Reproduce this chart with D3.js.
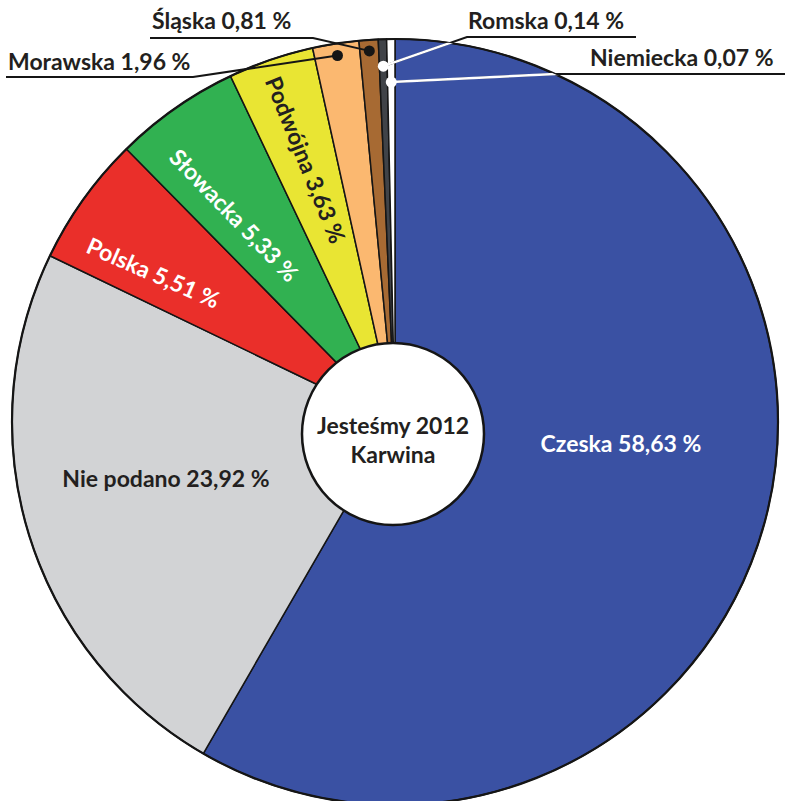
<!DOCTYPE html>
<html>
<head>
<meta charset="utf-8">
<script src="https://cdn.jsdelivr.net/npm/d3@7"></script>
<style>
  body { margin: 0; background: #fff; }
  svg text { font-family: Lato, "Open Sans", sans-serif; font-weight: 700; }
</style>
</head>
<body>
<div class="chart"></div>
<script>
// data
var categories = ["Czeska", "Nie podano", "Polska", "Słowacka", "Podwójna", "Morawska", "Śląska", "Romska", "Niemiecka"];
var shares = [58.63, 23.92, 5.51, 5.33, 3.63, 1.96, 0.81, 0.14, 0.07];
var colors = ["#3a51a3", "#d2d3d5", "#ea2f2a", "#31b151", "#e9e533", "#fbb870", "#a76a33", "#404348", "#ffffff"];
var centerTitle = ["Jesteśmy 2012", "Karwina"];

var svgWidth = 785;
var svgHeight = 801;
var cx = 395, cy = 422, R = 383;
var minShare = 0.35; // smallest slices get a visible minimum width
var fontSize = 23;

var fmt = d3.formatLocale({decimal: ",", thousands: " ", grouping: [3], currency: ["", ""]}).format(".2f");

var data = categories.map(function (c, i) {
  return {name: c, value: shares[i], color: colors[i]};
});

var svg = d3.select(".chart")
  .append("svg")
  .attr("width", svgWidth)
  .attr("height", svgHeight);

var chartGroup = svg.append("g")
  .attr("transform", `translate(${cx}, ${cy})`);

var pie = d3.pie()
  .sort(null)
  .value(d => Math.max(d.value, minShare));

var arc = d3.arc()
  .innerRadius(0)
  .outerRadius(R);

var arcs = pie(data);

function polar(a, r) {
  return [r * Math.sin(a), -r * Math.cos(a)];
}
function mid(d) { return (d.startAngle + d.endAngle) / 2; }

// slices
chartGroup.selectAll("path.slice")
  .data(arcs)
  .enter()
  .append("path")
  .attr("class", "slice")
  .attr("d", arc)
  .attr("fill", d => d.data.color)
  .attr("stroke", "#151515")
  .attr("stroke-width", 1.5)
  .attr("stroke-linejoin", "round");

chartGroup.append("circle")
  .attr("r", R)
  .attr("fill", "none")
  .attr("stroke", "#151515")
  .attr("stroke-width", 2.2);

svg.append("clipPath")
  .attr("id", "pieClip")
  .append("circle")
  .attr("r", R);

// labels inside the slices (dA in degrees, radius, text colour, rotation)
var inside = {
  "Czeska":     {dA: -9.5, r: 227, fill: "#fff", rot: false},
  "Nie podano": {dA: 3.2, r: 236, fill: "#231f20", rot: false},
  "Polska":     {dA: -4, r: 284, fill: "#fff", rot: true, off: -8},
  "Słowacka":   {dA: -3, r: 262, fill: "#fff", rot: true, off: -6},
  "Podwójna":   {dA: 0, r: 277, fill: "#231f20", rot: true, off: -3}
};

arcs.filter(d => inside[d.data.name]).forEach(function (d) {
  var cfg = inside[d.data.name];
  var a = mid(d) + cfg.dA * Math.PI / 180;
  var p = polar(a, cfg.r);
  var rot = cfg.rot ? (a * 180 / Math.PI - 270 + cfg.off) : 0;
  chartGroup.append("text")
    .attr("transform", `translate(${p[0]}, ${p[1]}) rotate(${rot})`)
    .attr("text-anchor", "middle")
    .attr("dy", "0.35em")
    .attr("font-size", fontSize)
    .attr("fill", cfg.fill)
    .text(`${d.data.name} ${fmt(d.data.value)} %`);
});

// outer labels with leader lines (page coordinates)
var outside = {
  "Morawska":  {tx: 8, ty: 70, ly: 77, x0: 6, ex: 193, r: 371, dot: "#151515"},
  "Śląska":    {tx: 152, ty: 29, ly: 38, x0: 150, ex: 313, r: 372, dot: "#151515"},
  "Romska":    {tx: 468, ty: 29, ly: 37, x0: 636, ex: 467, r: 356, dot: "#fff"},
  "Niemiecka": {tx: 590, ty: 66, ly: 74, x0: 785, ex: 555, r: 340, dot: "#fff"}
};

var outerGroup = svg.append("g");
var whiteGroup = svg.append("g")
  .attr("transform", `translate(${cx}, ${cy})`)
  .attr("clip-path", "url(#pieClip)")
  .append("g")
  .attr("transform", `translate(${-cx}, ${-cy})`);
var dotGroup = svg.append("g");

arcs.filter(d => outside[d.data.name]).forEach(function (d) {
  var cfg = outside[d.data.name];
  var p = polar(mid(d), cfg.r);
  var dx = cx + p[0], dy = cy + p[1];
  var pts = [[cfg.x0, cfg.ly], [cfg.ex, cfg.ly], [dx, dy]];
  outerGroup.append("path")
    .attr("d", d3.line()(pts))
    .attr("fill", "none")
    .attr("stroke", "#151515")
    .attr("stroke-width", 2);
  if (cfg.dot === "#fff") {
    whiteGroup.append("path")
      .attr("d", d3.line()(pts))
      .attr("fill", "none")
      .attr("stroke", "#fff")
      .attr("stroke-width", 2.4);
  }
  dotGroup.append("circle")
    .attr("cx", dx)
    .attr("cy", dy)
    .attr("r", 5.5)
    .attr("fill", cfg.dot);
  outerGroup.append("text")
    .attr("x", cfg.tx)
    .attr("y", cfg.ty)
    .attr("font-size", fontSize)
    .attr("fill", "#231f20")
    .text(`${d.data.name} ${fmt(d.data.value)} %`);
});

// centre badge
var badge = svg.append("g")
  .attr("transform", "translate(393, 434)");

badge.append("circle")
  .attr("r", 91)
  .attr("fill", "#fff")
  .attr("stroke", "#151515")
  .attr("stroke-width", 2.5);

badge.selectAll("text")
  .data(centerTitle)
  .enter()
  .append("text")
  .attr("text-anchor", "middle")
  .attr("y", (d, i) => i * 29)
  .attr("font-size", fontSize)
  .attr("fill", "#231f20")
  .text(d => d);
</script>
</body>
</html>
